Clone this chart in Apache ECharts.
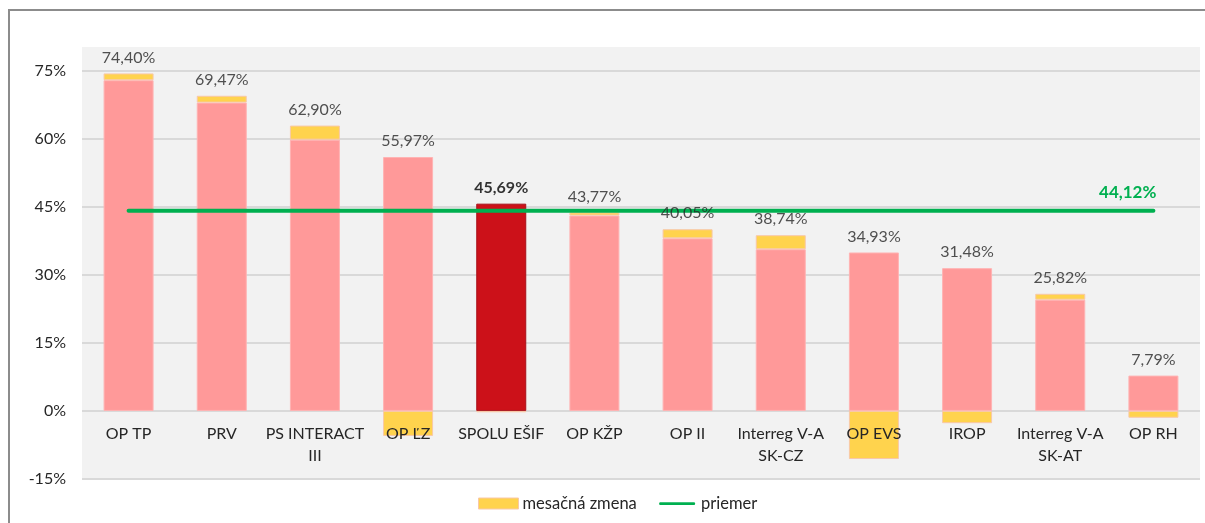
<!DOCTYPE html>
<html>
<head>
<meta charset="utf-8">
<script src="https://cdn.jsdelivr.net/npm/echarts@6/dist/echarts.min.js"></script>
<style>
  html, body { margin: 0; padding: 0; background: #fff; }
  #frame { position: absolute; left: 8px; top: 9px; width: 1210px; height: 530px;
           border-top: 2px solid #8c8c8c; border-left: 2px solid #8c8c8c; box-sizing: border-box; }
  #chart { position: absolute; left: 0; top: 0; width: 1205px; height: 523px; }
</style>
</head>
<body>
<div id="frame"></div>
<div id="chart"></div>
<script>
// ---- data ----
const categories = ['OP TP', 'PRV', 'PS INTERACT\nIII', 'OP ĽZ', 'SPOLU EŠIF', 'OP KŽP', 'OP II',
                    'Interreg V-A\nSK-CZ', 'OP EVS', 'IROP', 'Interreg V-A\nSK-AT', 'OP RH'];
const totals  = [74.40, 69.47, 62.90, 55.97, 45.69, 43.77, 40.05, 38.74, 34.93, 31.48, 25.82, 7.79];
const changes = [1.5, 1.5, 3.1, -5.5, -0.3, 0.7, 2.0, 3.1, -10.6, -2.7, 1.3, -1.5];
const average = 44.12;
const totalIndex = 4; // SPOLU EŠIF
const yTicks = [-15, 0, 15, 30, 45, 60, 75];

// derived
const baseValues = totals.map((t, i) => changes[i] > 0 ? +(t - changes[i]).toFixed(2) : t);
const fmt = v => v.toFixed(2).replace('.', ',') + '%';
const FONT = 'Lato';
const TXT = '#262626';

const chart = echarts.init(document.getElementById('chart'), null, { renderer: 'canvas' });
chart.setOption({
  animation: false,
  textStyle: { fontFamily: FONT },
  grid: { left: 82, right: 5, top: 48, bottom: 44, show: true, backgroundColor: '#F2F2F2',
          borderWidth: 0, outerBoundsMode: 'none', containLabel: false },
  legend: {
    data: [
      { name: 'mesačná zmena', icon: 'rect', itemStyle: { color: '#FFD34D', borderColor: '#F8C8A8', borderWidth: 1 } },
      { name: 'priemer', icon: 'path://M0,0 M40,12 M1,4.5 L39,4.5 Q40.5,6 39,7.5 L1,7.5 Q-0.5,6 1,4.5 Z', itemStyle: { color: '#00B050' } }
    ],
    top: 490, left: 473,
    itemWidth: 40, itemHeight: 11, itemGap: 22,
    textStyle: { fontSize: 16.5, color: TXT, fontFamily: FONT, padding: [0, 0, 0, -1] }
  },
  xAxis: {
    type: 'category',
    data: categories,
    z: 10,
    axisLine: { show: false, onZero: false },
    axisTick: { show: false },
    axisLabel: { fontSize: 16, color: TXT, margin: -56, lineHeight: 22, interval: 0, fontFamily: FONT }
  },
  yAxis: {
    type: 'value',
    min: -15, max: 80, interval: 15,
    axisLine: { show: false },
    axisTick: { show: false },
    axisLabel: {
      fontSize: 16, color: TXT, margin: 16, fontFamily: FONT,
      formatter: v => yTicks.includes(v) ? v + '%' : ''
    },
    splitLine: { lineStyle: { color: ['#D9D9D9','#D9D9D9','#D9D9D9','#D9D9D9','#D9D9D9','#D9D9D9','#D9D9D9','#F2F2F2'], width: 2 } }
  },
  series: [
    {
      name: 'base', type: 'bar', stack: 's', barWidth: 50,
      data: baseValues.map((v, i) => i === totalIndex
        ? { value: v, itemStyle: { color: '#CC1119', borderColor: '#A8101A', borderWidth: 1 } }
        : v),
      itemStyle: { color: '#FF9999', borderColor: '#FFB3B3', borderWidth: 1 }
    },
    {
      name: 'mesačná zmena', type: 'bar', stack: 's', barWidth: 50,
      data: changes,
      itemStyle: { color: '#FFD34D', borderColor: '#F8C8A8', borderWidth: 1 }
    },
    {
      name: 'priemer', type: 'line',
      data: categories.map(() => average),
      symbol: 'circle', symbolSize: 0, showSymbol: true,
      lineStyle: { color: '#00B050', width: 4, cap: 'round' },
      itemStyle: { color: '#00B050' },
      z: 5,
      label: {
        show: true, position: 'top', align: 'right', distance: 10, offset: [3, 0],
        fontSize: 17, fontWeight: 'bold', color: '#00B050', fontFamily: FONT,
        formatter: p => p.dataIndex === categories.length - 1 ? fmt(average) : ''
      }
    },
    {
      name: 'totals', type: 'scatter',
      data: totals.map((v, i) => i === totalIndex
        ? { value: v, label: { fontWeight: 'bold', color: '#000' } }
        : v),
      symbolSize: 0,
      itemStyle: { color: 'transparent' },
      silent: true, z: 6,
      label: {
        show: true, position: 'top', distance: 8,
        fontSize: 16, color: TXT, fontFamily: FONT,
        formatter: p => fmt(p.value)
      }
    }
  ]
});
</script>
</body>
</html>
